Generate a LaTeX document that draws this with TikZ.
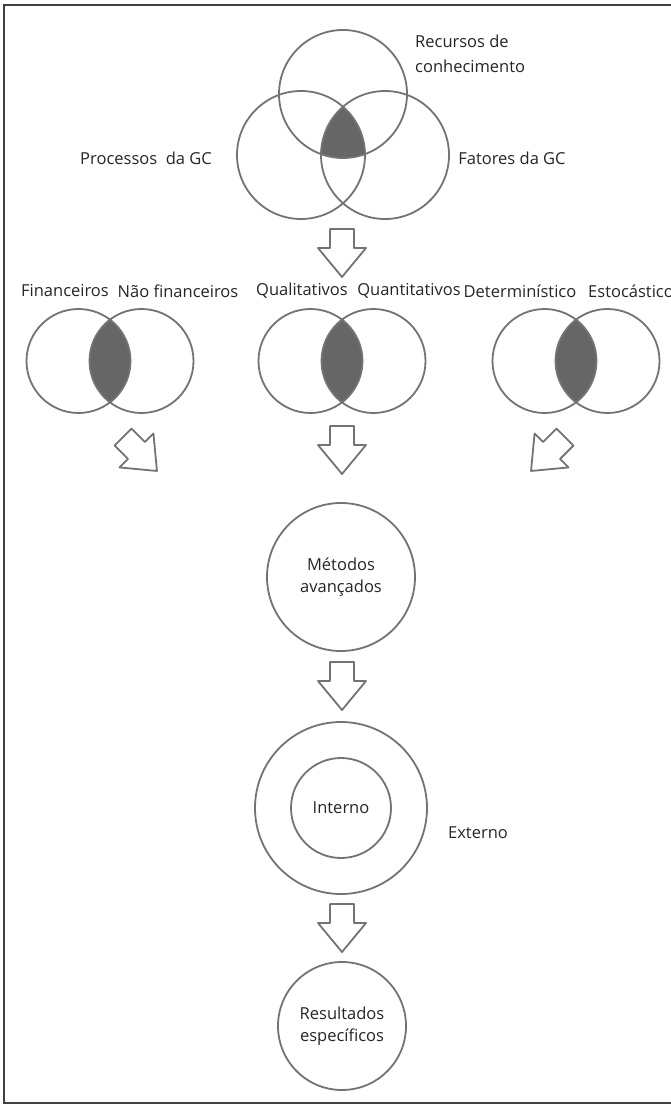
\documentclass[tikz,border=0pt]{standalone}
\usepackage{fontspec}
\setmainfont{Open Sans}
\newcommand\lblfont{\fontsize{16.5}{21.5}\selectfont}

\begin{document}
\begin{tikzpicture}[x=1pt, y=-1pt,
    ring/.style={draw=black!55, line width=1.8pt},
    lens/.style={fill=black!60},
    lbl/.style={font=\lblfont, text=black!85, inner sep=0pt},
    bubble/.style={circle, draw=black!55, line width=1.8pt, font=\lblfont,
      text=black!85, align=center, inner sep=0pt},
    blockarrow/.pic={
      \draw[black!55, line width=1.8pt, line join=round]
        (-12,-24) -- (12,-24) -- (12,-5) -- (24,-5) -- (0,24)
        -- (-24,-5) -- (-12,-5) -- cycle;
    }]
      \clip (0,0) rectangle (671,1106);
      \fill[white] (0,0) rectangle (671,1106);
      \draw[black!75, line width=2.2pt] (700,5) -- (4,5) -- (4,1103) -- (700,1103);
      % three circles on top
      \begin{scope}
        \clip (343,94) circle (64pt);
        \clip (301,155) circle (64pt);
        \fill[lens] (385,155) circle (64pt);
      \end{scope}
      \draw[ring] (343,94) circle (64pt) (301,155) circle (64pt) (385,155) circle (64pt);
      \node[lbl, anchor=west, align=left] (rec) at (415,54) {Recursos de\\[3pt]conhecimento};
      \node[lbl] (proc) at (146,158) {Processos\ \ da GC};
      \node[lbl] (fat) at (512,158) {Fatores da GC};
      % pairs of circles
      \foreach \m in {110,342,576} {
        \begin{scope}
          \clip (\m-31.5,361) circle (52pt);
          \fill[lens] (\m+31.5,361) circle (52pt);
        \end{scope}
        \draw[ring] (\m-31.5,361) circle (52pt) (\m+31.5,361) circle (52pt);
      }
      \node[lbl] (fin) at (65,291) {Financeiros};
      \node[lbl] (nfin) at (178,291) {Não financeiros};
      \node[lbl] (qual) at (302,291) {Qualitativos};
      \node[lbl] (quan) at (409,291) {Quantitativos};
      \node[lbl] (det) at (520,291) {Determinístico};
      \node[lbl, anchor=west] (est) at (588,291) {Estocástico};
      % hollow arrows
      \foreach \y in {253,450,686,928}
        \pic at (342,\y) {blockarrow};
      \pic[rotate=45] at (140,454) {blockarrow};
      \pic[rotate=-45] at (548,454) {blockarrow};
      % circles down the middle
      \node[bubble, minimum size=148pt] (met) at (341,577) {Métodos\\avançados};
      \node[bubble, minimum size=172pt] (ext) at (341,808) {};
      \node[bubble, minimum size=100pt] (int) at (341,808) {Interno};
      \node[lbl] (extlbl) at (478,833) {Externo};
      \node[bubble, minimum size=128pt] (res) at (342,1026) {Resultados\\específicos};
    \end{tikzpicture}
\end{document}
